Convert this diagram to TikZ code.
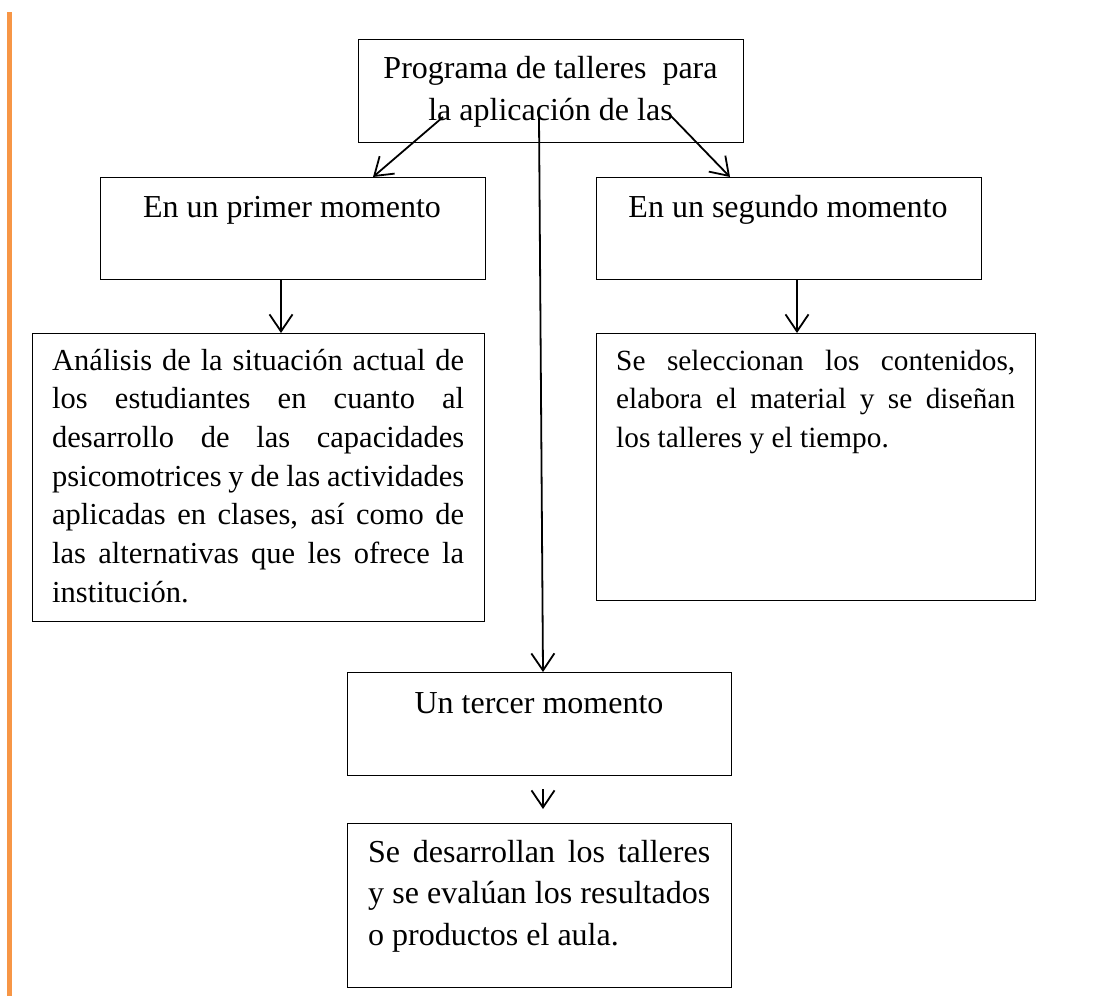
\documentclass[tikz,border=0pt]{standalone}
\usepackage{fontspec}
\setmainfont{Liberation Serif}
\usetikzlibrary{arrows.meta,calc}
\definecolor{orangebar}{RGB}{247,150,70}
\newcommand{\jline}[2]{\noindent\makebox[#1][s]{#2}\par}
\newcommand{\nline}[1]{\noindent\mbox{#1}\par}
\begin{document}
\begin{tikzpicture}[x=1pt,y=-1pt,
  box/.style={draw, line width=1pt, inner sep=0pt, anchor=north west},
  conn/.style={line width=1.8pt, -{Straight Barb[length=17pt,width=23pt,line width=1.8pt]}},
  txt/.style={inner sep=0pt, font=\fontsize{32}{40}\selectfont},
  body/.style={inner sep=0pt, font=\fontsize{30.5}{38.7}\selectfont},
  bodys/.style={inner sep=0pt, font=\fontsize{29.3}{38.7}\selectfont}]
\useasboundingbox (0,0) rectangle (1115,996);
\fill[orangebar] (6.5,12) rectangle (11.5,996);

% boxes
\node[box, minimum width=385pt, minimum height=103pt] (top) at (358,39) {};
\node[box, minimum width=385pt, minimum height=102pt] (p1) at (100,177) {};
\node[box, minimum width=385pt, minimum height=102pt] (p2) at (596,177) {};
\node[box, minimum width=452pt, minimum height=288pt] (a1) at (32,333) {};
\node[box, minimum width=439pt, minimum height=267pt] (a2) at (596,333) {};
\node[box, minimum width=384pt, minimum height=103pt] (t3) at (347,672) {};
\node[box, minimum width=384pt, minimum height=164pt] (b3) at (347,823) {};

% texts
\node[txt, anchor=base] (topt1) at (550.5,78) {Programa de talleres\ \ para};
\node[txt, anchor=base] (topt2) at (550.5,120) {la aplicación de las};
\node[txt, anchor=base] (p1t) at (292,217) {En un primer momento};
\node[txt, anchor=base] (p2t) at (788,217) {En un segundo momento};
\node[txt, anchor=base] (t3t) at (539,713) {Un tercer momento};
\node[body, anchor=base west] (a1t) at (52,370) {\vtop{\hsize=412pt\parindent=0pt\baselineskip=38.7pt
  \jline{412pt}{Análisis de la situación actual de}
  \jline{412pt}{los estudiantes en cuanto al}
  \jline{412pt}{desarrollo de las capacidades}
  \jline{412pt}{psicomotrices y de las actividades}
  \jline{412pt}{aplicadas en clases, así como de}
  \jline{412pt}{las alternativas que les ofrece la}
  \nline{institución.}}};
\node[bodys, anchor=base west] (a2t) at (616,370) {\vtop{\hsize=399pt\parindent=0pt\baselineskip=38.8pt
  \jline{399pt}{Se seleccionan los contenidos,}
  \jline{399pt}{elabora el material y se diseñan}
  \nline{los talleres y el tiempo.}}};
\node[txt, anchor=base west] (b3t) at (368,862) {\vtop{\hsize=342pt\parindent=0pt\baselineskip=41.5pt
  \jline{342pt}{Se desarrollan los talleres}
  \jline{342pt}{y se evalúan los resultados}
  \nline{o productos el aula.}}};

% connectors
\coordinate (s1) at (443,117);
\coordinate (s2) at (670,115);
\coordinate (s3) at (539,118);
\draw[conn] (s1) -- ($(p1.north west)+(273,0)$);
\draw[conn] (s2) -- ($(p2.north west)+(134,0)$);
\draw[conn] (s3) -- ($(t3.north west)+(196,0)$);
\draw[conn] ($(p1.south west)+(181,0)$) coordinate (c1) -- (c1 |- a1.north);
\draw[conn] ($(p2.south west)+(201,0)$) coordinate (c2) -- (c2 |- a2.north);
\draw[conn] ($(t3.south west)+(196,13)$) -- ($(b3.north west)+(196,-14)$);
\end{tikzpicture}
\end{document}
